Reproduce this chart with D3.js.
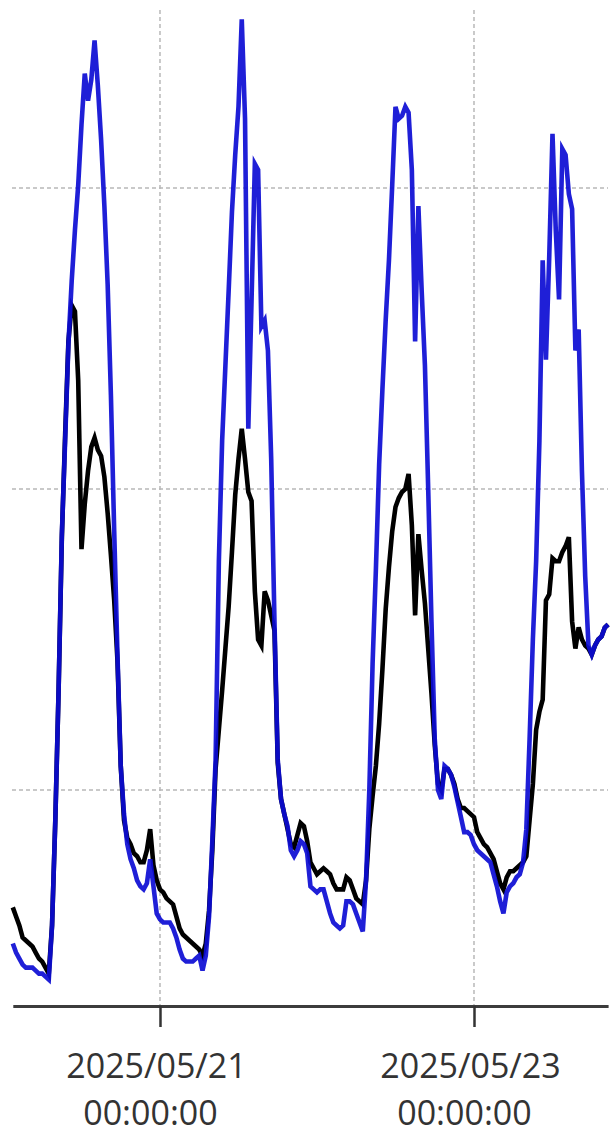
<!DOCTYPE html>
<html><head><meta charset="utf-8">
<script src="https://cdn.jsdelivr.net/npm/d3@7"></script>
<style>html,body{margin:0;padding:0;background:#fff;overflow:hidden}</style>
</head><body><svg id="c" width="614" height="1138"></svg>
<script>
// ---- data ----
const startTime = "2025-05-20T01:30:00Z";
const stepMinutes = 30;
const blueValues = [
4.9,4.6,4.4,4.2,4.1,4.1,4.1,4.0,3.9,3.9,3.8,3.7,5.5,9.0,13.3,18.5,21.6,24.8,26.9,28.6,
30.1,32.1,33.8,32.9,33.6,34.9,33.4,31.6,29.4,26.8,23.1,18.6,14.5,10.8,9.2,8.2,7.7,7.4,7.0,6.8,
6.7,6.9,7.7,6.8,5.9,5.7,5.6,5.6,5.6,5.4,5.1,4.7,4.4,4.3,4.3,4.3,4.4,4.5,4.0,4.5,
5.8,8.3,11.0,17.6,21.6,24.1,26.6,29.2,31.1,32.7,35.6,32.3,22.0,26.3,30.8,30.6,25.4,25.6,24.6,21.0,
15.6,11.0,9.7,9.2,8.8,8.0,7.8,8.0,8.3,8.2,7.9,6.8,6.7,6.6,6.7,6.7,6.3,5.9,5.6,5.5,
5.4,5.5,6.3,6.3,6.2,5.9,5.6,5.3,7.0,10.0,14.2,17.3,20.8,23.3,25.6,27.6,30.1,32.7,32.3,32.4,
32.7,32.5,30.6,24.9,29.4,26.6,24.1,20.0,15.6,11.7,10.0,9.7,10.8,10.7,10.5,10.1,9.6,9.1,8.6,8.6,
8.5,8.2,8.0,7.9,7.8,7.7,7.6,7.2,6.8,6.3,5.9,6.6,6.8,6.9,7.1,7.2,7.6,8.7,11.7,15.0,
17.6,21.6,27.6,24.3,27.7,31.8,28.6,26.3,31.3,31.1,29.8,29.3,24.6,25.3,20.6,17.1,14.8,14.5,14.8,15.0,
15.1,15.4,15.5
];
const blackValues = [
6.1,5.8,5.5,5.1,5.0,4.9,4.8,4.6,4.4,4.3,4.1,3.9,5.5,9.0,13.3,18.4,21.8,24.9,26.1,25.9,
23.6,18.0,19.5,20.6,21.4,21.7,21.3,21.1,20.4,19.2,17.8,16.3,14.3,10.8,9.0,8.4,8.2,7.9,7.8,7.6,
7.6,8.0,8.7,7.5,7.0,6.7,6.6,6.4,6.3,6.2,5.8,5.4,5.2,5.1,5.0,4.9,4.8,4.7,4.5,4.9,
6.0,8.0,10.7,12.0,13.3,14.7,16.1,17.9,19.8,21.0,22.0,21.0,19.9,19.6,16.6,15.0,14.8,16.6,16.3,15.8,
15.3,10.9,9.7,9.2,8.7,8.2,8.1,8.5,8.9,8.8,8.3,7.6,7.4,7.2,7.3,7.4,7.3,7.2,6.9,6.7,
6.7,6.7,7.1,7.0,6.7,6.4,6.3,6.2,7.0,8.7,9.8,10.8,12.2,14.0,16.0,17.4,18.6,19.4,19.7,19.9,
20.0,20.5,18.8,15.8,18.5,17.3,16.2,14.7,13.2,11.5,10.2,10.0,10.7,10.7,10.5,10.2,9.7,9.4,9.4,9.3,
9.2,9.1,8.6,8.4,8.2,8.1,7.9,7.7,7.3,6.9,6.7,7.1,7.3,7.3,7.4,7.5,7.6,7.8,9.0,10.2,
12.0,12.6,13.0,16.3,16.5,17.7,17.6,17.6,17.9,18.1,18.4,15.6,14.7,15.4,15.0,14.8,14.7,14.5,14.8,15.0,
15.1,15.4,15.5
];
const xTickDates = ["2025-05-21T00:00:00Z", "2025-05-23T00:00:00Z"];
const yGridValues = [10, 20, 30];

// ---- chart ----
const svg = d3.select("#c");
const t0 = new Date(startTime);
const times = blueValues.map((_, i) => new Date(t0.getTime() + i * stepMinutes * 60000));
const x = d3.scaleTime().domain([times[0], times[times.length - 1]]).range([12.8, 608.1]);
const y = d3.scaleLinear().domain([2.824, 36.246]).range([1006, 0]);
const tickDates = xTickDates.map(d => new Date(d));

// grid
svg.append("g").selectAll("line").data(yGridValues).join("line")
  .attr("x1", 12).attr("x2", 608)
  .attr("y1", d => y(d)).attr("y2", d => y(d))
  .attr("stroke", "#b8b8b8").attr("stroke-width", 1.5).attr("stroke-dasharray", "4,3");
svg.append("g").selectAll("line").data(tickDates).join("line")
  .attr("x1", d => x(d)).attr("x2", d => x(d))
  .attr("y1", 10).attr("y2", 1006)
  .attr("stroke", "#b8b8b8").attr("stroke-width", 1.5).attr("stroke-dasharray", "4,3");

// lines
const line = d3.line().x((d, i) => x(times[i])).y(d => y(d));
svg.append("path").datum(blackValues).attr("d", line)
  .attr("fill", "none").attr("stroke", "#000").attr("stroke-width", 4.6);
svg.append("path").datum(blueValues).attr("d", line)
  .attr("fill", "none").attr("stroke", "#0c0cd4").attr("stroke-opacity", 0.92).attr("stroke-width", 4.6);

// x axis
const fmtDate = d3.utcFormat("%Y/%m/%d");
const fmtTime = d3.utcFormat("%H:%M:%S");
const ax = svg.append("g").attr("transform", "translate(0,1006)")
  .call(d3.axisBottom(x).tickValues(tickDates).tickSize(21).tickSizeOuter(0).tickFormat(""));
ax.select(".domain").attr("stroke", "#3c3c3c").attr("stroke-width", 3);
ax.selectAll(".tick line").attr("stroke", "#333").attr("stroke-width", 2.5);
ax.selectAll(".tick text").remove();
const lbl = ax.selectAll(".tick").append("text")
  .attr("fill", "#333").attr("font-family", "'Open Sans', 'Noto Sans', sans-serif")
  .attr("font-size", 34).attr("text-anchor", "middle");
lbl.append("tspan").attr("x", -4).attr("y", 72).text(d => fmtDate(d));
lbl.append("tspan").attr("x", -10).attr("y", 119).text(d => fmtTime(d));
</script></body></html>
